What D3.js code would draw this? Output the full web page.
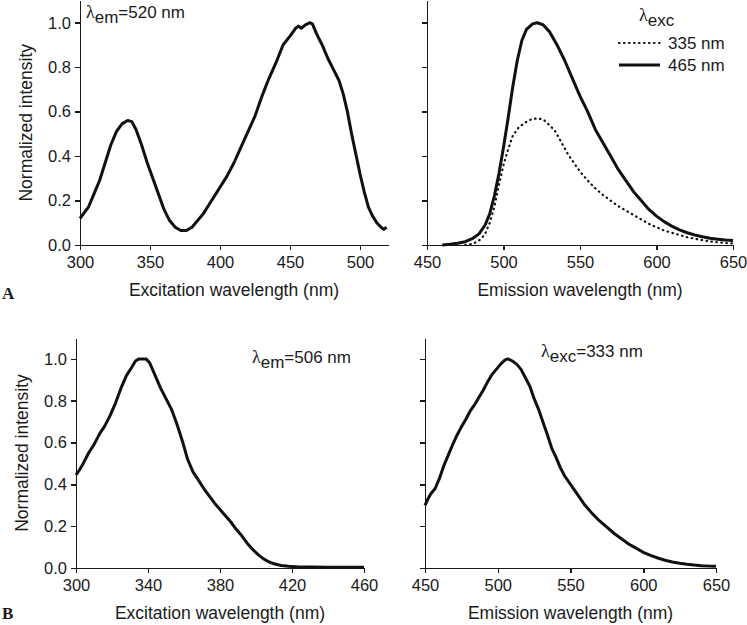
<!DOCTYPE html>
<html>
<head>
<meta charset="utf-8">
<script src="https://cdn.jsdelivr.net/npm/d3@7"></script>
<style>
  html, body { margin: 0; padding: 0; background: #fff; }
  svg { display: block; }
  .axis path, .axis line { stroke: #1a1a1a; stroke-width: 1.5; shape-rendering: crispEdges; }
  .axis text { font-family: "Liberation Sans", Arial, sans-serif; font-size: 16.5px; fill: #1a1a1a; }
  .title { font-family: "Liberation Sans", Arial, sans-serif; font-size: 17.5px; fill: #1a1a1a; }
  .lab { font-family: "Liberation Sans", Arial, sans-serif; font-size: 17px; fill: #1a1a1a; }
  .lam { font-family: "Liberation Serif", "Times New Roman", serif; font-size: 18px; }
  .panel { font-family: "Liberation Serif", "Times New Roman", serif; font-weight: bold; font-size: 17px; fill: #1a1a1a; }
</style>
</head>
<body>
<script>
// ---------- data ----------
// Panel A, excitation spectrum (λem = 520 nm)
const exA_nm  = [300,303,306,310,314,318,322,326,330,334,337,340,344,348,352,356,360,364,368,372,376,380,384,388,392,396,400,405,410,415,420,425,430,435,440,445,450,454,456,458,461,464,466,469,473,477,481,485,488,491,494,497,500,503,506,509,512,515,517,519];
const exA_int = [0.12,0.145,0.17,0.23,0.29,0.37,0.45,0.51,0.545,0.56,0.555,0.52,0.45,0.37,0.30,0.23,0.16,0.11,0.08,0.065,0.065,0.08,0.11,0.14,0.18,0.22,0.26,0.31,0.37,0.44,0.51,0.58,0.67,0.75,0.82,0.90,0.94,0.975,0.985,0.975,0.99,1.0,0.995,0.95,0.90,0.84,0.79,0.74,0.68,0.60,0.50,0.41,0.32,0.24,0.17,0.13,0.10,0.08,0.07,0.08];

// Panel A, emission spectra
const emA465_nm  = [460,465,470,475,480,484,488,491,494,497,500,503,506,509,512,515,519,522,526,530,535,540,545,550,555,560,565,570,575,580,585,590,595,600,605,610,615,620,625,630,635,640,645,650];
const emA465_int = [0,0.003,0.008,0.015,0.03,0.05,0.09,0.14,0.22,0.32,0.44,0.57,0.71,0.83,0.92,0.97,0.995,1.0,0.99,0.96,0.90,0.83,0.75,0.67,0.60,0.52,0.46,0.40,0.34,0.29,0.24,0.20,0.16,0.13,0.105,0.085,0.068,0.055,0.045,0.037,0.03,0.026,0.022,0.02];
const emA335_nm  = [475,480,485,488,491,494,497,500,503,506,510,514,518,522,526,530,534,538,542,546,550,555,560,565,570,575,580,585,590,595,600,605,610,615,620,625,630,635,640,645,650];
const emA335_int = [0,0.005,0.025,0.05,0.10,0.17,0.27,0.36,0.43,0.49,0.53,0.55,0.565,0.57,0.565,0.54,0.51,0.46,0.41,0.37,0.33,0.29,0.255,0.225,0.20,0.175,0.155,0.135,0.115,0.095,0.08,0.065,0.055,0.045,0.035,0.028,0.022,0.016,0.012,0.009,0.007];

// Panel B, excitation spectrum (λem = 506 nm)
const exB_nm  = [300,302,304,307,310,313,316,319,322,325,328,331,333,335,339,341,344,347,350,353,356,359,362,365,368,371,374,377,380,383,386,389,392,395,398,401,404,407,410,414,418,424,430,440,450,460];
const exB_int = [0.445,0.47,0.50,0.55,0.59,0.64,0.68,0.73,0.79,0.86,0.92,0.96,0.99,1.0,1.0,0.98,0.92,0.86,0.81,0.76,0.69,0.61,0.52,0.46,0.42,0.38,0.345,0.31,0.28,0.25,0.22,0.185,0.155,0.12,0.09,0.065,0.045,0.03,0.02,0.012,0.008,0.005,0.005,0.004,0.004,0.004];

// Panel B, emission spectrum (λexc = 333 nm)
const emB_nm  = [450,452,454,457,460,463,466,469,472,475,478,481,484,487,490,493,496,499,502,505,507,510,513,516,519,522,525,528,531,534,537,540,543,546,550,555,560,565,570,575,580,585,590,595,600,605,610,615,620,625,630,635,640,645,650];
const emB_int = [0.30,0.33,0.355,0.38,0.43,0.49,0.54,0.59,0.635,0.675,0.71,0.75,0.78,0.815,0.85,0.89,0.925,0.95,0.975,0.995,1.0,0.99,0.975,0.95,0.91,0.87,0.81,0.76,0.70,0.64,0.575,0.53,0.48,0.44,0.40,0.35,0.30,0.26,0.225,0.195,0.165,0.14,0.115,0.095,0.075,0.06,0.048,0.037,0.029,0.023,0.018,0.014,0.011,0.009,0.008];

// Ticks and labels
const yTicks   = [0, 0.2, 0.4, 0.6, 0.8, 1.0];
const xTicksTL = [300, 350, 400, 450, 500];
const xTicksTR = [450, 500, 550, 600, 650];
const xTicksBL = [300, 340, 380, 420, 460];
const xTicksBR = [450, 500, 550, 600, 650];
const yTitle = "Normalized intensity";
const exTitle = "Excitation wavelength (nm)";
const emTitle = "Emission wavelength (nm)";
const legendItems = ["335 nm", "465 nm"];

// ---------- layout ----------
const W = 747, H = 625;
const svg = d3.select("body").append("svg").attr("width", W).attr("height", H);

const zip = (xs, ys) => xs.map((x, i) => [x, ys[i]]);

function panel(opt) {
  const x = d3.scaleLinear().domain(opt.xdom).range([opt.x0, opt.x1]);
  const y = d3.scaleLinear().domain([0, 1.1]).range([opt.y0, opt.y1]);
  const g = svg.append("g");

  const xa = g.append("g").attr("class", "axis").attr("transform", `translate(0,${opt.y0})`)
    .call(d3.axisBottom(x).tickValues(opt.xticks).tickSize(5).tickSizeOuter(0).tickPadding(6).tickFormat(d3.format("d")));
  xa.selectAll("text").attr("dy", "0.71em");

  g.append("g").attr("class", "axis").attr("transform", `translate(${opt.x0},0)`)
    .call(d3.axisLeft(y).tickValues(yTicks).tickSize(5).tickSizeOuter(0).tickPadding(4)
      .tickFormat(opt.ylabels ? d3.format(".1f") : () => ""));

  g.append("text").attr("class", "title").attr("text-anchor", "middle")
    .attr("x", (opt.x0 + opt.x1) / 2).attr("y", opt.y0 + 51)
    .text(opt.xtitle);

  if (opt.ylabels) {
    g.append("text").attr("class", "title").attr("text-anchor", "middle")
      .attr("transform", `translate(${opt.x0 - 48},${(opt.y0 + opt.y1) / 2}) rotate(-90)`)
      .text(yTitle);
  }

  const line = d3.line().x(d => x(d[0])).y(d => y(d[1])).curve(d3.curveLinear);
  opt.series.forEach(s => {
    g.append("path").datum(zip(s.nm, s.v))
      .attr("fill", "none").attr("stroke", "#111")
      .attr("stroke-width", s.dotted ? 2.2 : 3)
      .attr("stroke-linejoin", "round").attr("stroke-linecap", s.dotted ? "round" : "butt")
      .attr("stroke-dasharray", s.dotted ? "0.5,4.5" : null)
      .attr("d", line);
  });
  return { x, y, g };
}

function lambdaLabel(x, yb, sub, rest) {
  const t = svg.append("text").attr("class", "lab").attr("x", x).attr("y", yb);
  t.append("tspan").attr("class", "lam").text("λ");
  t.append("tspan").attr("dy", 5).text(sub);
  if (rest) t.append("tspan").attr("dy", -5).text(rest);
  return t;
}

// Top-left: excitation (A)
panel({ xdom: [300, 520], x0: 80, x1: 388, y0: 245, y1: 0.5, xticks: xTicksTL, ylabels: true,
        xtitle: exTitle, series: [{ nm: exA_nm, v: exA_int }] });
// Top-right: emission (A)
panel({ xdom: [450, 650], x0: 427, x1: 733, y0: 245, y1: 0.5, xticks: xTicksTR, ylabels: false,
        xtitle: emTitle,
        series: [{ nm: emA335_nm, v: emA335_int, dotted: true }, { nm: emA465_nm, v: emA465_int }] });
// Bottom-left: excitation (B)
panel({ xdom: [300, 460], x0: 76, x1: 364, y0: 568, y1: 338, xticks: xTicksBL, ylabels: true,
        xtitle: exTitle, series: [{ nm: exB_nm, v: exB_int }] });
// Bottom-right: emission (B)
panel({ xdom: [450, 650], x0: 425, x1: 716, y0: 568, y1: 338, xticks: xTicksBR, ylabels: false,
        xtitle: emTitle, series: [{ nm: emB_nm, v: emB_int }] });

// Annotations
lambdaLabel(86, 18, "em", "=520 nm");
lambdaLabel(252, 363, "em", "=506 nm");
lambdaLabel(541, 357, "exc", "=333 nm");

// Legend (top-right)
lambdaLabel(639, 21, "exc", null);
const legY = [43, 65];
legendItems.forEach((txt, i) => {
  svg.append("line").attr("x1", 619).attr("x2", 660).attr("y1", legY[i]).attr("y2", legY[i])
    .attr("stroke", "#111").attr("stroke-width", i === 0 ? 2.2 : 3)
    .attr("stroke-linecap", i === 0 ? "round" : "butt")
    .attr("stroke-dasharray", i === 0 ? "0.5,4.5" : null);
  svg.append("text").attr("class", "lab").attr("x", 668).attr("y", legY[i] + 6).text(txt);
});

// Panel letters
svg.append("text").attr("class", "panel").attr("x", 2).attr("y", 299).text("A");
svg.append("text").attr("class", "panel").attr("x", 2).attr("y", 619).text("B");
</script>
</body>
</html>
